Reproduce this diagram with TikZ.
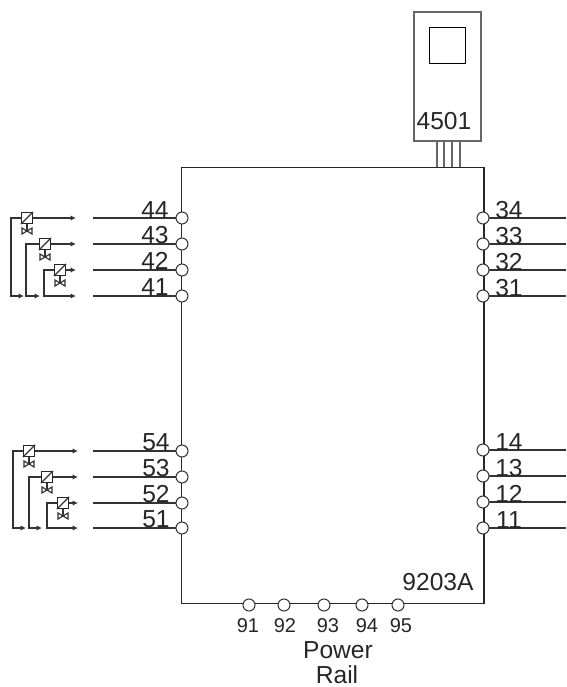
\documentclass[tikz,border=0pt]{standalone}
\usepackage{fontspec}
\setmainfont{Liberation Sans}
\usetikzlibrary{arrows.meta}
\tikzset{
    wire/.style={line width=0.65pt, draw=black!80},
    feed/.style={wire, -{Latex[length=3pt, width=3pt]}},
    terminal/.style={circle, draw=black!80, line width=0.6pt, fill=white, inner sep=0pt, minimum size=0.24cm},
    solenoid/.style={rectangle, draw=black!85, line width=0.7pt, fill=white, inner sep=0pt, minimum size=0.22cm},
    tag/.style={anchor=base, inner sep=0pt, font=\fontsize{14}{14}\selectfont, text=black!85},
    smalltag/.style={anchor=base, inner sep=0pt, font=\fontsize{11.4}{12}\selectfont, text=black!85}
}
\begin{document}
\begin{tikzpicture}[x=0.02cm, y=-0.02cm]
    \useasboundingbox (0,0) rectangle (566,687);

    % main unit and display
    \node[draw=black!85, line width=0.6pt, minimum width=6.06cm, minimum height=8.74cm, inner sep=0pt] (rack) at (332.5,385.5) {};
    \node[draw=black!60, line width=0.7pt, minimum width=1.34cm, minimum height=2.58cm, inner sep=0pt] (dev) at (447.5,76.5) {};
    \node[draw=black, line width=0.55pt, minimum size=0.72cm, inner sep=0pt] (screen) at (447,45) {};
    \node[tag] (devlabel) at (444,129) {4501};
    \node[tag] (model) at (438,590) {9203A};

    \coordinate (w1) at (437,167);
    \coordinate (w2) at (444,167);
    \coordinate (w3) at (452,167);
    \coordinate (w4) at (460,167);
    \draw[wire, draw=black!60] (w1) -- (w1 |- dev.south);
    \draw[wire, draw=black!60] (w2) -- (w2 |- dev.south);
    \draw[wire, draw=black!60] (w3) -- (w3 |- dev.south);
    \draw[wire, draw=black!60] (w4) -- (w4 |- dev.south);

    % left terminals
    \coordinate (e44) at (93,218);
    \coordinate (e43) at (93,244);
    \coordinate (e42) at (93,270);
    \coordinate (e41) at (93,296);
    \coordinate (e54) at (93,451);
    \coordinate (e53) at (93,477);
    \coordinate (e52) at (93,503);
    \coordinate (e51) at (93,528);
    \draw[wire] (e44) -- (182,218) node[terminal] (t44) {};
    \draw[wire] (e43) -- (182,244) node[terminal] (t43) {};
    \draw[wire] (e42) -- (182,270) node[terminal] (t42) {};
    \draw[wire] (e41) -- (182,296) node[terminal] (t41) {};
    \draw[wire] (e54) -- (182,451) node[terminal] (t54) {};
    \draw[wire] (e53) -- (182,477) node[terminal] (t53) {};
    \draw[wire] (e52) -- (182,503) node[terminal] (t52) {};
    \draw[wire] (e51) -- (182,528) node[terminal] (t51) {};
    \node[tag] (l44) at (155,218) {44};
    \node[tag] (l43) at (155,243) {43};
    \node[tag] (l42) at (155,269) {42};
    \node[tag] (l41) at (155,295) {41};
    \node[tag] (l54) at (156,450) {54};
    \node[tag] (l53) at (156,476) {53};
    \node[tag] (l52) at (156,502) {52};
    \node[tag] (l51) at (156,527) {51};

    % right terminals
    \coordinate (e34) at (566,218);
    \coordinate (e33) at (566,244);
    \coordinate (e32) at (566,270);
    \coordinate (e31) at (566,296);
    \coordinate (e14) at (566,450);
    \coordinate (e13) at (566,476);
    \coordinate (e12) at (566,502);
    \coordinate (e11) at (566,528);
    \draw[wire] (e34) -- (483,218) node[terminal] (t34) {};
    \draw[wire] (e33) -- (483,244) node[terminal] (t33) {};
    \draw[wire] (e32) -- (483,270) node[terminal] (t32) {};
    \draw[wire] (e31) -- (483,296) node[terminal] (t31) {};
    \draw[wire] (e14) -- (483,450) node[terminal] (t14) {};
    \draw[wire] (e13) -- (483,476) node[terminal] (t13) {};
    \draw[wire] (e12) -- (483,502) node[terminal] (t12) {};
    \draw[wire] (e11) -- (483,528) node[terminal] (t11) {};
    \node[tag] (l34) at (509,218) {34};
    \node[tag] (l33) at (509,244) {33};
    \node[tag] (l32) at (509,270) {32};
    \node[tag] (l31) at (509,296) {31};
    \node[tag] (l14) at (509,450) {14};
    \node[tag] (l13) at (509,476) {13};
    \node[tag] (l12) at (509,502) {12};
    \node[tag] (l11) at (509,528) {11};

    % power rail
    \node[terminal] (t91) at (249,605) {};
    \node[terminal] (t92) at (284,605) {};
    \node[terminal] (t93) at (324,605) {};
    \node[terminal] (t94) at (362,605) {};
    \node[terminal] (t95) at (398,605) {};
    \node[smalltag] (l91) at (248,632) {91};
    \node[smalltag] (l92) at (285,632) {92};
    \node[smalltag] (l93) at (328,632) {93};
    \node[smalltag] (l94) at (367,632) {94};
    \node[smalltag] (l95) at (401,632) {95};
    \node[tag] (power) at (338,658) {Power};
    \node[tag] (railname) at (337,683) {Rail};

    % upper valves
    \node[solenoid] (v44) at (27,218) {};
    \node[solenoid] (v43) at (45,244) {};
    \node[solenoid] (v42) at (60,270) {};
    \coordinate (b44) at (27,231);
    \coordinate (b43) at (45,257);
    \coordinate (b42) at (60,283);
    \coordinate (a44) at (76,218);
    \coordinate (a43) at (76,244);
    \coordinate (a42) at (76,270);
    \coordinate (j44) at (11,296);
    \coordinate (j43) at (26,296);
    \coordinate (j42) at (44,296);
    \coordinate (r44) at (24,296);
    \coordinate (r43) at (40,296);
    \coordinate (r42) at (76,296);
    \draw[feed] (v44) -- (a44);
    \draw[feed] (v43) -- (a43);
    \draw[feed] (v42) -- (a42);
    \draw[feed] (v44.west) -| (j44) -- (r44);
    \draw[feed] (v43.west) -| (j43) -- (r43);
    \draw[feed] (v42.west) -| (j42) -- (r42);
    \draw[wire] (v44.south west) -- (v44.north east);
    \draw[wire] (v43.south west) -- (v43.north east);
    \draw[wire] (v42.south west) -- (v42.north east);
    \draw[wire] (v44.south) -- (b44);
    \draw[wire] (v43.south) -- (b43);
    \draw[wire] (v42.south) -- (b42);
    \draw[wire] (b44) ++(-5,-3) -- ++(10,6) -- ++(0,-6) -- ++(-10,6) -- cycle;
    \draw[wire] (b43) ++(-5,-3) -- ++(10,6) -- ++(0,-6) -- ++(-10,6) -- cycle;
    \draw[wire] (b42) ++(-5,-3) -- ++(10,6) -- ++(0,-6) -- ++(-10,6) -- cycle;

    % lower valves
    \node[solenoid] (v54) at (29,451) {};
    \node[solenoid] (v53) at (47,477) {};
    \node[solenoid] (v52) at (63,503) {};
    \coordinate (b54) at (29,464);
    \coordinate (b53) at (47,490);
    \coordinate (b52) at (63,516);
    \coordinate (a54) at (78,451);
    \coordinate (a53) at (78,477);
    \coordinate (a52) at (78,503);
    \coordinate (j54) at (13,528);
    \coordinate (j53) at (29,528);
    \coordinate (j52) at (47,528);
    \coordinate (r54) at (26,528);
    \coordinate (r53) at (42,528);
    \coordinate (r52) at (78,528);
    \draw[feed] (v54) -- (a54);
    \draw[feed] (v53) -- (a53);
    \draw[feed] (v52) -- (a52);
    \draw[feed] (v54.west) -| (j54) -- (r54);
    \draw[feed] (v53.west) -| (j53) -- (r53);
    \draw[feed] (v52.west) -| (j52) -- (r52);
    \draw[wire] (v54.south west) -- (v54.north east);
    \draw[wire] (v53.south west) -- (v53.north east);
    \draw[wire] (v52.south west) -- (v52.north east);
    \draw[wire] (v54.south) -- (b54);
    \draw[wire] (v53.south) -- (b53);
    \draw[wire] (v52.south) -- (b52);
    \draw[wire] (b54) ++(-5,-3) -- ++(10,6) -- ++(0,-6) -- ++(-10,6) -- cycle;
    \draw[wire] (b53) ++(-5,-3) -- ++(10,6) -- ++(0,-6) -- ++(-10,6) -- cycle;
    \draw[wire] (b52) ++(-5,-3) -- ++(10,6) -- ++(0,-6) -- ++(-10,6) -- cycle;
\end{tikzpicture}
\end{document}
